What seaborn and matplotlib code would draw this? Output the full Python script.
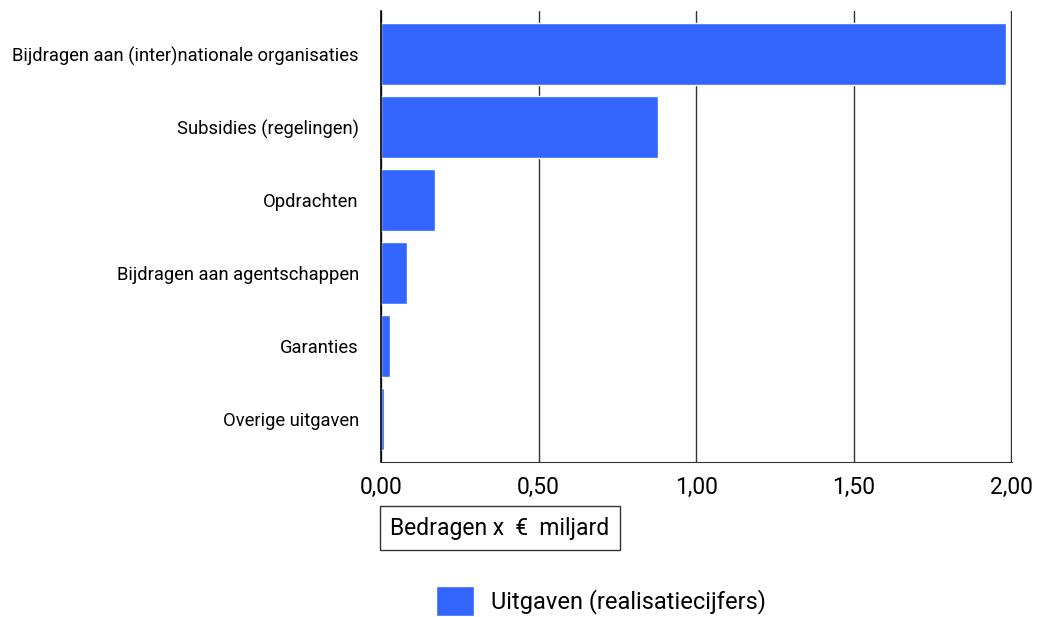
import pandas as pd
import seaborn as sns
import matplotlib.pyplot as plt
from matplotlib.ticker import FuncFormatter

categories = [
    'Bijdragen aan (inter)nationale organisaties',
    'Subsidies (regelingen)',
    'Opdrachten',
    'Bijdragen aan agentschappen',
    'Garanties',
    'Overige uitgaven',
]
values = [1.984, 0.878, 0.172, 0.083, 0.029, 0.008]
series_name = 'Uitgaven (realisatiecijfers)'
x_ticks = [0.0, 0.5, 1.0, 1.5, 2.0]

df = pd.DataFrame({'categorie': categories, 'bedrag': values, 'reeks': series_name})

sns.set_theme(style='white')
plt.rcParams['font.family'] = ['Roboto', 'DejaVu Sans']
plt.rcParams['text.color'] = '#000000'

fig = plt.figure(figsize=(10.37, 6.17), dpi=100)
ax = fig.add_axes([381 / 1037, 1 - 462 / 617, 631 / 1037, 451 / 617])

sns.barplot(data=df, x='bedrag', y='categorie', hue='reeks', palette=['#3366ff'],
            width=0.85, saturation=1, ax=ax, legend=True)

ax.set_xlim(0, 2.003)
ax.set_ylim(5.59, -0.59)
ax.set_xticks(x_ticks)
ax.xaxis.set_major_formatter(FuncFormatter(lambda v, p: f'{v:.2f}'.replace('.', ',')))
ax.grid(axis='x', color='#333333', linewidth=1)
ax.set_axisbelow(True)
for s in ['top', 'right']:
    ax.spines[s].set_visible(False)
ax.spines['left'].set_color('#000000')
ax.spines['left'].set_linewidth(1.2)
ax.spines['bottom'].set_color('#333333')
ax.spines['bottom'].set_linewidth(0.8)
ax.tick_params(axis='x', labelsize=16.5, pad=10, length=0, colors='#000000')
ax.tick_params(axis='y', labelsize=13.2, pad=16, length=0, colors='#000000')
ax.set_ylabel('')
ax.set_xlabel('')

fig.text(390 / 1037, 1 - 528 / 617, 'Bedragen x  €  miljard', fontsize=16.5, va='center', ha='left',
         color='#000000',
         bbox=dict(boxstyle='square,pad=0.45', facecolor='white', edgecolor='#333333', linewidth=1))

handles, labels = ax.get_legend_handles_labels()
ax.get_legend().remove()
leg = fig.legend(handles, labels, loc='center', bbox_to_anchor=(601 / 1037, 1 - 601 / 617),
                 frameon=False, fontsize=17, handlelength=1.6, handleheight=1.6, handletextpad=0.7)
for t in leg.get_texts():
    t.set_color('#000000')

fig.savefig('out.png', dpi=100)
